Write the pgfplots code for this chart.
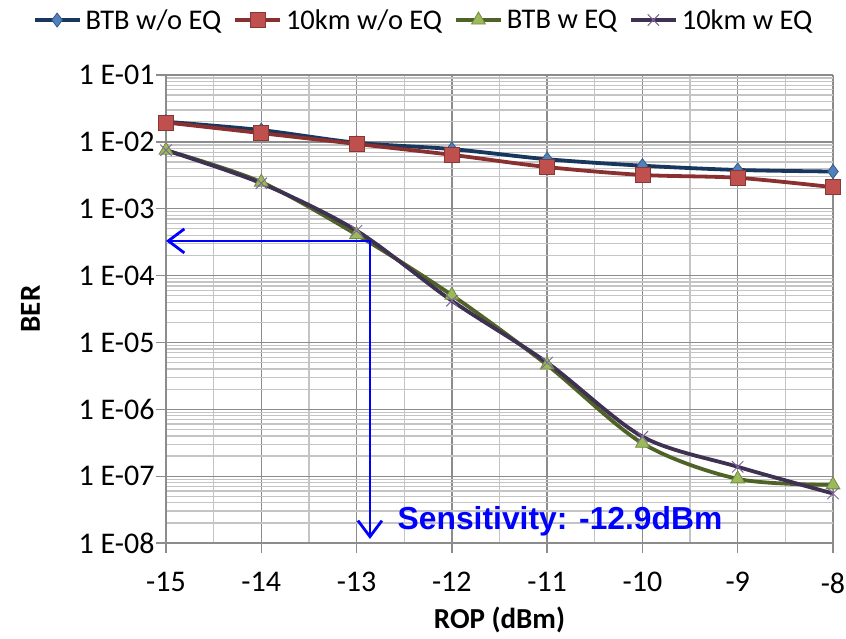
\documentclass[border=0pt]{standalone}
\usepackage{fontspec}
\setmainfont{Carlito}
\newfontfamily\arialfont{Liberation Sans}
\usepackage{pgfplots}
\pgfplotsset{compat=1.18}
\usetikzlibrary{arrows.meta}
\definecolor{xlBlueLine}{HTML}{17375E}
\definecolor{xlBlueMark}{HTML}{4F81BD}
\definecolor{xlRedLine}{HTML}{8B3030}
\definecolor{xlRedMark}{HTML}{C0504D}
\definecolor{xlGreenLine}{HTML}{4F6228}
\definecolor{xlGreenMark}{HTML}{9BBB59}
\definecolor{xlPurpLine}{HTML}{3F3151}
\definecolor{xlPurpMark}{HTML}{8064A2}
\definecolor{gridMajor}{HTML}{8C8C8C}
\definecolor{gridMinor}{HTML}{C4C4C4}
\begin{document}
\begin{tikzpicture}[x=1pt,y=1pt]
\path[use as bounding box] (-166,-95) rectangle (680,543);
\begin{axis}[at={(0,0)}, anchor=south west, scale only axis,
  width=667pt, height=468pt,
  ymode=log, xmin=-15, xmax=-8, ymin=1e-8, ymax=1e-1,
  xtick={-15,-14,-13,-12,-11,-10,-9,-8},
  xticklabels={-15,-14,-13,-12,-11,-10,-9,-8},
  ytick={1e-8,1e-7,1e-6,1e-5,1e-4,1e-3,1e-2,1e-1},
  yticklabels={1 E-08,1 E-07,1 E-06,1 E-05,1 E-04,1 E-03,1 E-02,1 E-01},
  minor x tick num=1,
  grid=both, major grid style={gridMajor, line width=1.3pt},
  minor grid style={gridMinor, line width=1.3pt},
  axis lines*=left, axis line style={gridMajor, line width=1.3pt},
  tick align=outside, major tick length=10pt, minor tick length=0pt,
  tick style={gridMajor, line width=1.3pt},
  tick label style={font=\fontsize{30}{32}\selectfont, text=black},
  xticklabel style={yshift=-16pt},
  yticklabel style={xshift=2pt},
  xlabel={\bfseries ROP (dBm)}, ylabel={\bfseries BER},
  label style={font=\fontsize{29}{32}\selectfont},
  xlabel style={yshift=-7pt},
  ylabel style={yshift=32pt},
  legend style={at={(0.3846,1.1175)}, anchor=center, legend columns=4,
    draw=none, fill=none, font=\fontsize{28.5}{31}\selectfont,
    nodes={inner sep=0pt},
    /tikz/every odd column/.append style={column sep=4pt},
    /tikz/every even column/.append style={column sep=12pt}},
  legend image code/.code={\draw[mark repeat=2, mark phase=2]
    plot coordinates {(0pt,0pt) (22.5pt,0pt) (45pt,0pt)};},
  clip=false]
  \addplot[xlBlueLine, line width=3.8pt, smooth, mark=diamond*, mark size=7pt,
    mark options={fill=xlBlueMark, draw=xlBlueMark!70!black, line width=0.8pt}]
    coordinates {(-15,2.0e-2) (-14,1.5e-2) (-13,9.7e-3) (-12,7.8e-3)
                 (-11,5.5e-3) (-10,4.4e-3) (-9,3.8e-3) (-8,3.6e-3)};
  \addlegendentry{BTB w/o EQ}
  \addplot[xlRedLine, line width=3.8pt, smooth, mark=square*, mark size=7.5pt,
    mark options={fill=xlRedMark, draw=xlRedMark!70!black, line width=0.8pt}]
    coordinates {(-15,1.95e-2) (-14,1.35e-2) (-13,9.3e-3) (-12,6.4e-3)
                 (-11,4.2e-3) (-10,3.2e-3) (-9,2.9e-3) (-8,2.1e-3)};
  \addlegendentry{10km w/o EQ}
  \addplot[xlGreenLine, line width=3.8pt, smooth, mark=triangle*, mark size=8pt,
    mark options={fill=xlGreenMark, draw=xlGreenMark!75!black, line width=0.8pt}]
    coordinates {(-15,7.5e-3) (-14,2.5e-3) (-13,4.1e-4) (-12,5.1e-5)
                 (-11,4.6e-6) (-10,3.1e-7) (-9,9.1e-8) (-8,7.4e-8)};
  \addlegendentry{BTB w EQ}
  \addplot[xlPurpLine, line width=3.8pt, smooth, mark=x, mark size=8pt,
    mark options={draw=xlPurpMark, line width=1pt}]
    coordinates {(-15,7.5e-3) (-14,2.4e-3) (-13,4.7e-4) (-12,4.2e-5)
                 (-11,5.0e-6) (-10,3.9e-7) (-9,1.38e-7) (-8,5.5e-8)};
  \addlegendentry{10km w EQ}
  \draw[blue, line width=2.8pt,
    {Straight Barb[length=16pt, width=24pt, line width=2.8pt]}-{Straight Barb[length=16pt, width=24pt, line width=2.8pt]}]
    (axis cs:-15,3.3e-4) -- (axis cs:-12.86,3.3e-4) -- (axis cs:-12.86,1.15e-8);
  \node[blue, anchor=west, inner sep=0pt,
    font=\arialfont\bfseries\fontsize{31.8}{34}\selectfont]
    at (axis cs:-12.57,2.1e-8) {Sensitivity: -12.9dBm};
\end{axis}
\end{tikzpicture}
\end{document}
